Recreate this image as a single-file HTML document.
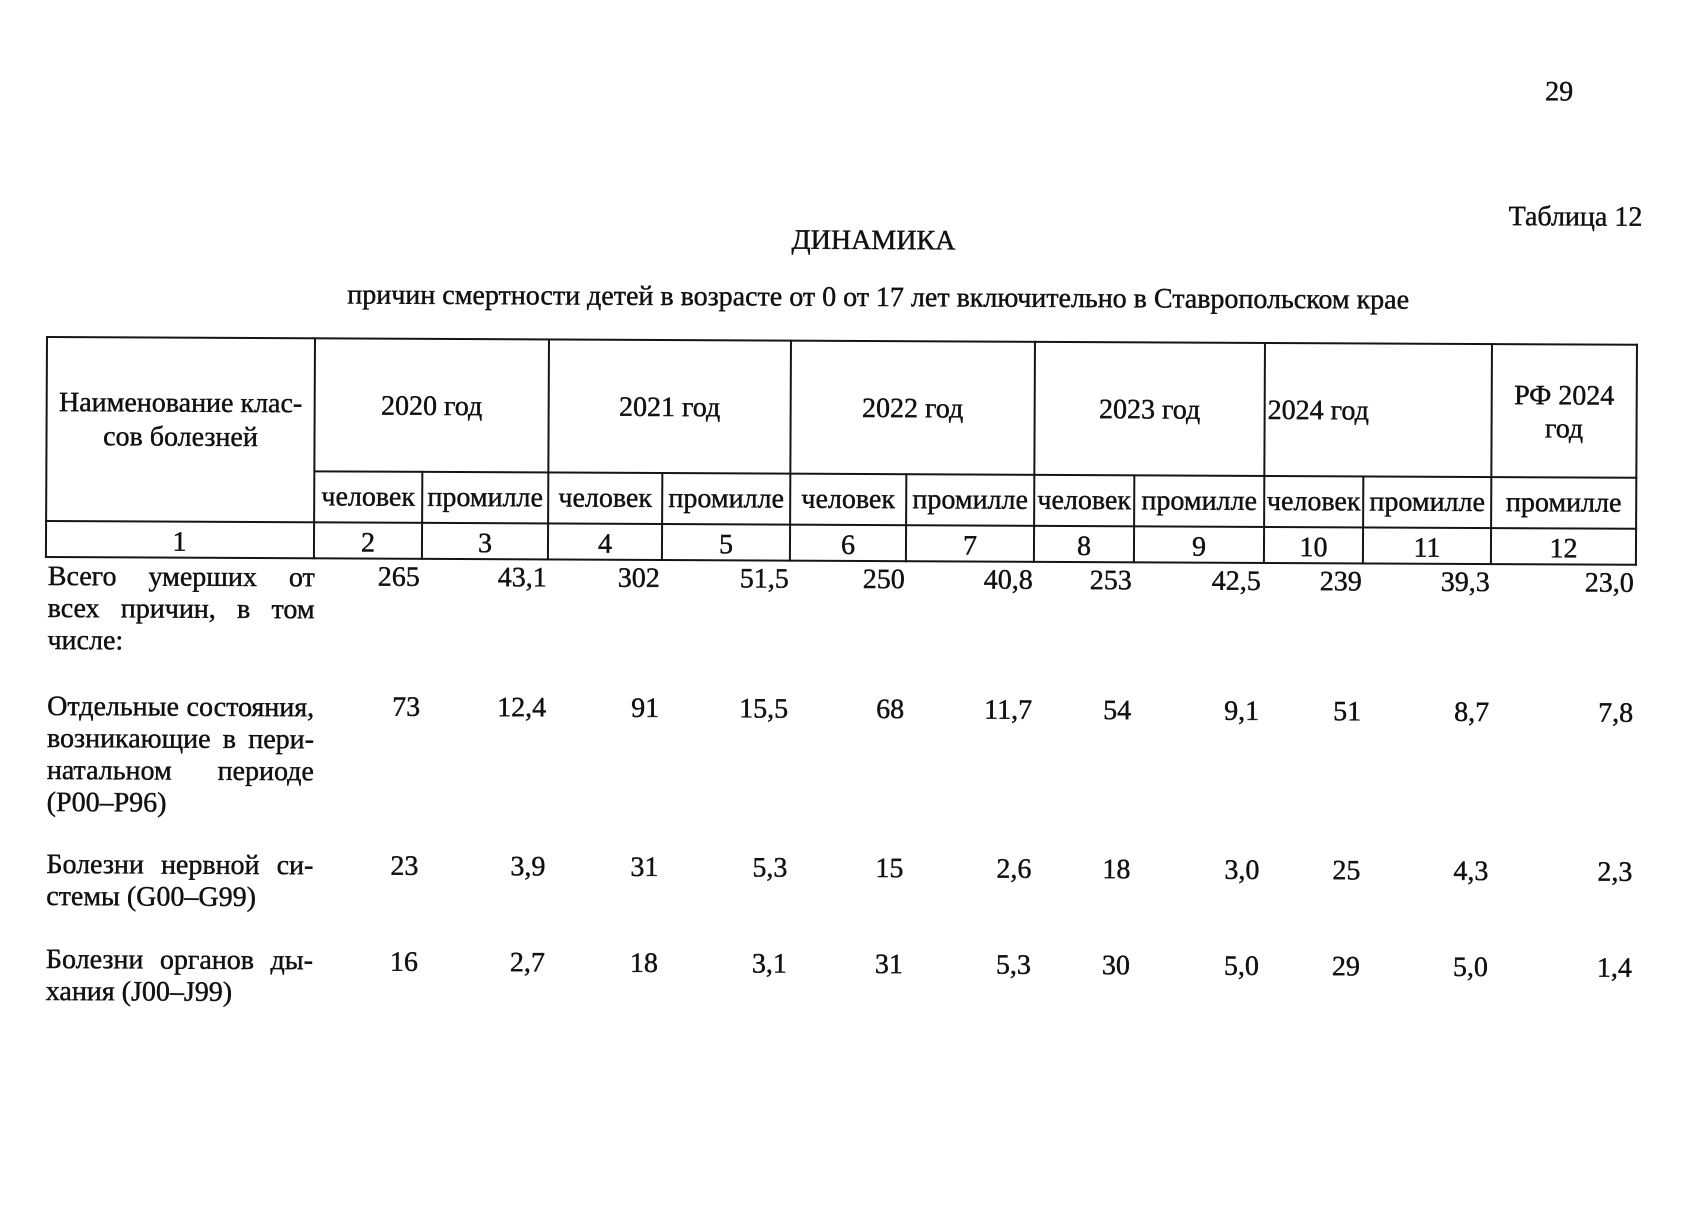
<!DOCTYPE html>
<html lang="ru">
<head>
<meta charset="utf-8">
<style>
  html, body { margin:0; padding:0; background:#fff; }
  body { width:1696px; height:1200px; overflow:hidden; position:relative; }
  #page {
    position:absolute; left:0; top:0; width:1696px; height:1200px;
    transform-origin: 46px 337px;
    transform: rotate(0.28deg);
    font-family: "Liberation Serif", "Noto Serif CJK SC", serif;
    color:#111;
  }
  .t { position:absolute; font-size:28px; line-height:32px; white-space:nowrap; -webkit-text-stroke:0.45px #111; }
  .c { text-align:center; }
  .r { text-align:right; }
  .h { position:absolute; height:2px; background:#151515; }
  .v { position:absolute; width:2px; background:#151515; }
  .j { position:absolute; left:49px; width:267px; height:32px; display:flex; justify-content:space-between;
       font-size:28px; line-height:32px; white-space:nowrap; -webkit-text-stroke:0.45px #111; }
</style>
</head>
<body>
<div id="page">

  <!-- page header -->
  <div class="t" style="left:1544px; top:69px;">29</div>
  <div class="t" style="left:1508px; top:194px;">Таблица 12</div>
  <div class="t c" style="left:673px; width:400px; top:221px;">ДИНАМИКА</div>
  <div class="t c" style="left:278px; width:1200px; top:278px;">причин смертности детей в возрасте от 0 от 17 лет включительно в Ставропольском крае</div>

  <!-- table lines: horizontal -->
  <div class="h" style="left:46px; width:1592px; top:336px;"></div>
  <div class="h" style="left:315px; width:1323px; top:469px;"></div>
  <div class="h" style="left:46px; width:1592px; top:520px;"></div>
  <div class="h" style="left:46px; width:1592px; top:556px;"></div>

  <!-- vertical full-height -->
  <div class="v" style="left:46px; top:336px; height:222px;"></div>
  <div class="v" style="left:314px; top:336px; height:222px;"></div>
  <div class="v" style="left:548px; top:336px; height:222px;"></div>
  <div class="v" style="left:790px; top:336px; height:222px;"></div>
  <div class="v" style="left:1034px; top:336px; height:222px;"></div>
  <div class="v" style="left:1264px; top:336px; height:222px;"></div>
  <div class="v" style="left:1491px; top:336px; height:222px;"></div>
  <div class="v" style="left:1636px; top:336px; height:222px;"></div>
  <!-- vertical sub-columns -->
  <div class="v" style="left:422px; top:469px; height:89px;"></div>
  <div class="v" style="left:662px; top:469px; height:89px;"></div>
  <div class="v" style="left:906px; top:469px; height:89px;"></div>
  <div class="v" style="left:1134px; top:469px; height:89px;"></div>
  <div class="v" style="left:1363px; top:469px; height:89px;"></div>

  <!-- header texts -->
  <div class="t c" style="left:46px; width:270px; top:387px;">Наименование клас-</div>
  <div class="t c" style="left:46px; width:270px; top:421px;">сов болезней</div>

  <div class="t c" style="left:315px; width:234px; top:389px;">2020 год</div>
  <div class="t c" style="left:549px; width:242px; top:389px;">2021 год</div>
  <div class="t c" style="left:791px; width:244px; top:389px;">2022 год</div>
  <div class="t c" style="left:1035px; width:230px; top:389px;">2023 год</div>
  <div class="t" style="left:1268px; top:389px;">2024 год</div>
  <div class="t c" style="left:1492px; width:145px; top:373px;">РФ 2024</div>
  <div class="t c" style="left:1492px; width:145px; top:406px;">год</div>

  <!-- sub header -->
  <div class="t c" style="left:315px; width:108px; top:480px;">человек</div>
  <div class="t c" style="left:423px; width:126px; top:480px;">промилле</div>
  <div class="t c" style="left:549px; width:114px; top:480px;">человек</div>
  <div class="t c" style="left:663px; width:128px; top:480px;">промилле</div>
  <div class="t c" style="left:791px; width:116px; top:480px;">человек</div>
  <div class="t c" style="left:907px; width:128px; top:480px;">промилле</div>
  <div class="t c" style="left:1035px; width:100px; top:480px;">человек</div>
  <div class="t c" style="left:1135px; width:130px; top:480px;">промилле</div>
  <div class="t c" style="left:1265px; width:99px; top:480px;">человек</div>
  <div class="t c" style="left:1364px; width:128px; top:480px;">промилле</div>
  <div class="t c" style="left:1492px; width:145px; top:480px;">промилле</div>

  <!-- column numbers -->
  <div class="t c" style="left:46px; width:269px; top:526px;">1</div>
  <div class="t c" style="left:315px; width:108px; top:526px;">2</div>
  <div class="t c" style="left:423px; width:126px; top:526px;">3</div>
  <div class="t c" style="left:549px; width:114px; top:526px;">4</div>
  <div class="t c" style="left:663px; width:128px; top:526px;">5</div>
  <div class="t c" style="left:791px; width:116px; top:526px;">6</div>
  <div class="t c" style="left:907px; width:128px; top:526px;">7</div>
  <div class="t c" style="left:1035px; width:100px; top:526px;">8</div>
  <div class="t c" style="left:1135px; width:130px; top:526px;">9</div>
  <div class="t c" style="left:1265px; width:99px; top:526px;">10</div>
  <div class="t c" style="left:1364px; width:128px; top:526px;">11</div>
  <div class="t c" style="left:1492px; width:145px; top:526px;">12</div>

  <!-- row labels -->
  <div class="j" style="top:561px;"><span>Всего</span><span>умерших</span><span>от</span></div>
  <div class="j" style="top:593px;"><span>всех</span><span>причин,</span><span>в</span><span>том</span></div>
  <div class="t" style="left:49px; top:625px;">числе:</div>

  <div class="j" style="top:691px;"><span>Отдельные</span><span>состояния,</span></div>
  <div class="j" style="top:723px;"><span>возникающие</span><span>в</span><span>пери-</span></div>
  <div class="j" style="top:755px;"><span>натальном</span><span>периоде</span></div>
  <div class="t" style="left:49px; top:787px;">(P00–P96)</div>

  <div class="j" style="top:849px;"><span>Болезни</span><span>нервной</span><span>си-</span></div>
  <div class="t" style="left:49px; top:881px;">стемы (G00–G99)</div>

  <div class="j" style="top:944px;"><span>Болезни</span><span>органов</span><span>ды-</span></div>
  <div class="t" style="left:49px; top:976px;">хания (J00–J99)</div>

  <!-- row 1 values -->
  <div class="t r" style="left:271px; width:150px; top:560px;">265</div>
  <div class="t r" style="left:398px; width:150px; top:560px;">43,1</div>
  <div class="t r" style="left:511px; width:150px; top:560px;">302</div>
  <div class="t r" style="left:640px; width:150px; top:560px;">51,5</div>
  <div class="t r" style="left:756px; width:150px; top:560px;">250</div>
  <div class="t r" style="left:884px; width:150px; top:560px;">40,8</div>
  <div class="t r" style="left:983px; width:150px; top:560px;">253</div>
  <div class="t r" style="left:1112px; width:150px; top:560px;">42,5</div>
  <div class="t r" style="left:1213px; width:150px; top:560px;">239</div>
  <div class="t r" style="left:1341px; width:150px; top:560px;">39,3</div>
  <div class="t r" style="left:1485px; width:150px; top:560px;">23,0</div>

  <!-- row 2 values -->
  <div class="t r" style="left:272px; width:150px; top:690px;">73</div>
  <div class="t r" style="left:398px; width:150px; top:690px;">12,4</div>
  <div class="t r" style="left:511px; width:150px; top:690px;">91</div>
  <div class="t r" style="left:640px; width:150px; top:690px;">15,5</div>
  <div class="t r" style="left:756px; width:150px; top:690px;">68</div>
  <div class="t r" style="left:884px; width:150px; top:690px;">11,7</div>
  <div class="t r" style="left:983px; width:150px; top:690px;">54</div>
  <div class="t r" style="left:1111px; width:150px; top:690px;">9,1</div>
  <div class="t r" style="left:1213px; width:150px; top:690px;">51</div>
  <div class="t r" style="left:1341px; width:150px; top:690px;">8,7</div>
  <div class="t r" style="left:1485px; width:150px; top:690px;">7,8</div>

  <!-- row 3 values -->
  <div class="t r" style="left:271px; width:150px; top:849px;">23</div>
  <div class="t r" style="left:398px; width:150px; top:849px;">3,9</div>
  <div class="t r" style="left:511px; width:150px; top:849px;">31</div>
  <div class="t r" style="left:640px; width:150px; top:849px;">5,3</div>
  <div class="t r" style="left:756px; width:150px; top:849px;">15</div>
  <div class="t r" style="left:884px; width:150px; top:849px;">2,6</div>
  <div class="t r" style="left:983px; width:150px; top:849px;">18</div>
  <div class="t r" style="left:1112px; width:150px; top:849px;">3,0</div>
  <div class="t r" style="left:1213px; width:150px; top:849px;">25</div>
  <div class="t r" style="left:1341px; width:150px; top:849px;">4,3</div>
  <div class="t r" style="left:1485px; width:150px; top:849px;">2,3</div>

  <!-- row 4 values -->
  <div class="t r" style="left:271px; width:150px; top:945px;">16</div>
  <div class="t r" style="left:398px; width:150px; top:945px;">2,7</div>
  <div class="t r" style="left:511px; width:150px; top:945px;">18</div>
  <div class="t r" style="left:640px; width:150px; top:945px;">3,1</div>
  <div class="t r" style="left:756px; width:150px; top:945px;">31</div>
  <div class="t r" style="left:884px; width:150px; top:945px;">5,3</div>
  <div class="t r" style="left:983px; width:150px; top:945px;">30</div>
  <div class="t r" style="left:1112px; width:150px; top:945px;">5,0</div>
  <div class="t r" style="left:1213px; width:150px; top:945px;">29</div>
  <div class="t r" style="left:1341px; width:150px; top:945px;">5,0</div>
  <div class="t r" style="left:1485px; width:150px; top:945px;">1,4</div>

</div>
</body>
</html>
